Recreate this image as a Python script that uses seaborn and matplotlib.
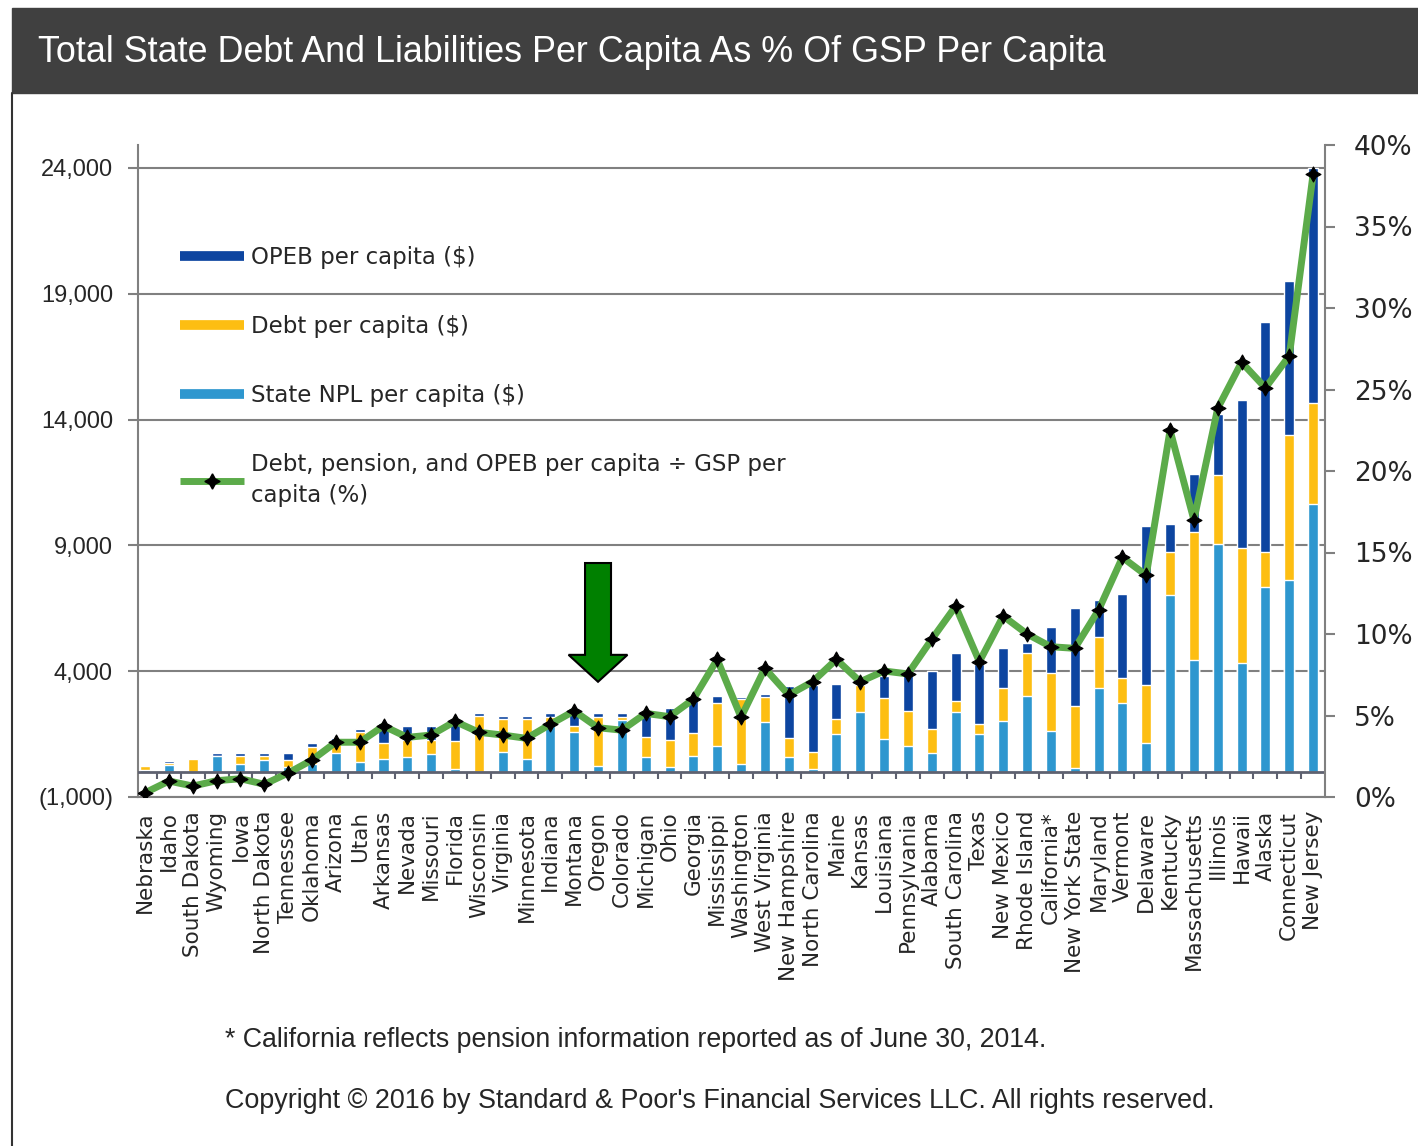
import numpy as np
import pandas as pd
import seaborn as sns
import matplotlib.pyplot as plt
from matplotlib.lines import Line2D
from matplotlib.patches import Rectangle

states = ["Nebraska", "Idaho", "South Dakota", "Wyoming", "Iowa", "North Dakota",
          "Tennessee", "Oklahoma", "Arizona", "Utah", "Arkansas", "Nevada", "Missouri",
          "Florida", "Wisconsin", "Virginia", "Minnesota", "Indiana", "Montana", "Oregon",
          "Colorado", "Michigan", "Ohio", "Georgia", "Mississippi", "Washington",
          "West Virginia", "New Hampshire", "North Carolina", "Maine", "Kansas",
          "Louisiana", "Pennsylvania", "Alabama", "South Carolina", "Texas", "New Mexico",
          "Rhode Island", "California*", "New York State", "Maryland", "Vermont",
          "Delaware", "Kentucky", "Massachusetts", "Illinois", "Hawaii", "Alaska",
          "Connecticut", "New Jersey"]
npl = [80, 280, 0, 640, 300, 490, 200, 330, 740, 410, 500, 600, 700, 130, 0, 800, 500,
       1920, 1600, 230, 2080, 600, 200, 610, 1030, 330, 1980, 600, 130, 1520, 2380, 1290,
       1020, 730, 2380, 1500, 2040, 3020, 1640, 150, 3320, 2720, 1140, 7020, 4440, 9070,
       4340, 7350, 7620, 10630]
debt = [150, 60, 520, 0, 320, 140, 290, 670, 460, 1190, 640, 670, 570, 1110, 2220, 1290,
        1590, 270, 230, 1960, 80, 790, 1060, 950, 1700, 2550, 1000, 730, 660, 600, 1060,
        1630, 1400, 990, 440, 420, 1280, 1690, 2300, 2470, 2050, 1020, 2310, 1720, 5100,
        2720, 4540, 1390, 5750, 4030]
opeb = [0, 90, 0, 100, 110, 100, 240, 140, 140, 100, 790, 560, 560, 820, 130, 130, 130,
        140, 700, 140, 170, 990, 1260, 1360, 290, 100, 130, 2080, 2650, 1390, 0, 890, 1420,
        2290, 1900, 2380, 1590, 400, 1800, 3910, 1460, 3310, 6310, 1130, 2310, 2440, 5910,
        9130, 6130, 9340]
pct = [0.26, 0.98, 0.67, 1.0, 1.12, 0.78, 1.47, 2.27, 3.36, 3.36, 4.36, 3.66, 3.8, 4.64,
       3.97, 3.8, 3.6, 4.46, 5.28, 4.25, 4.1, 5.13, 4.93, 6.0, 8.44, 4.89, 7.89, 6.26, 7.07,
       8.44, 7.07, 7.73, 7.55, 9.67, 11.7, 8.3, 11.1, 10.0, 9.22, 9.12, 11.47, 14.7, 13.6,
       22.5, 17.0, 23.85, 26.67, 25.1, 27.06, 38.2]

left_ticks = [-1000, 4000, 9000, 14000, 19000, 24000]
right_ticks = [0, 5, 10, 15, 20, 25, 30, 35, 40]

OPEB_C = "#0d45a0"
DEBT_C = "#fdbe12"
NPL_C = "#2e97cf"
GREEN = "#5cab4a"

df = pd.DataFrame({"state": states, "npl": npl, "debt": debt, "opeb": opeb, "pct": pct})
df["npl_debt"] = df["npl"] + df["debt"]
df["total"] = df["npl_debt"] + df["opeb"]

sns.set_theme(style="white")
plt.rcParams["font.family"] = ["Liberation Sans", "DejaVu Sans"]

W, H = 1418, 1146
fig = plt.figure(figsize=(W / 100, H / 100), dpi=100)
ax = fig.add_axes([138 / W, 1 - 797 / H, (1325 - 138) / W, (797 - 145) / H])

# header band + frame
fig.patches.append(Rectangle((12 / W, 1 - 93 / H), 1, 85 / H, transform=fig.transFigure,
                             color="#404040", zorder=0))
fig.add_artist(Line2D([12 / W, 12 / W], [0, 1 - 93 / H], color="#333333", lw=1.5))
fig.text(38 / W, 1 - 53 / H, "Total State Debt And Liabilities Per Capita As % Of GSP Per Capita",
         family=["Liberation Sans Narrow", "Liberation Sans"], fontsize=25.8, color="white",
         va="center", ha="left")

# stacked bars: draw cumulative totals back to front
for col, color in [("total", OPEB_C), ("npl_debt", DEBT_C), ("npl", NPL_C)]:
    sns.barplot(data=df, x="state", y=col, color=color, width=0.42, saturation=1,
                errorbar=None, ax=ax, zorder=2)

ax.set_ylim(-1000, 24914)
ax.set_yticks(left_ticks)
ax.set_yticklabels(["(1,000)" if v < 0 else f"{v:,}" for v in left_ticks])
ax.yaxis.grid(True, color="#808080", lw=1.5)
ax.set_axisbelow(True)
ax.axhline(0, color="#5e6170", lw=2, zorder=3)
ax.vlines(np.arange(len(states) - 1) + 0.5, -300, 0, color="#5e6170", lw=1.5, zorder=3)

ax.set_xticks(range(len(states)))
ax.set_xticklabels(states, rotation=90, va="top", ha="center",
                   family=["DejaVu Sans"], fontsize=15.5)
ax.tick_params(axis="x", length=0, pad=10)
ax.tick_params(axis="y", left=True, length=7, width=1.5, color="#808080",
               labelsize=17, pad=11)
for s in ["top", "right"]:
    ax.spines[s].set_visible(False)
for s in ["left", "bottom"]:
    ax.spines[s].set_color("#808080")
    ax.spines[s].set_linewidth(1.5)
ax.set_xlabel("")
ax.set_ylabel("")

# pointing arrow at Oregon
ax.arrow(states.index("Oregon"), 8300, 0, -4720, width=1.09, head_width=2.47,
         head_length=1070, length_includes_head=True, fc="#008000", ec="black",
         lw=1.5, zorder=6)

# ratio line on the right axis
ax2 = ax.twinx()
sns.lineplot(x=np.arange(len(states)), y=df["pct"], ax=ax2, color=GREEN, lw=5,
             marker=(4, 1, 0), markersize=11, markerfacecolor="black",
             markeredgecolor="black", zorder=5)
ax2.set_ylim(0, 40)
ax2.set_yticks(right_ticks)
ax2.set_yticklabels([f"{v}%" for v in right_ticks], family=["DejaVu Sans"])
ax2.tick_params(axis="y", right=True, length=7, width=1.5, color="#808080",
                labelsize=19, pad=14)
for s in ["top", "left", "bottom"]:
    ax2.spines[s].set_visible(False)
ax2.spines["right"].set_color("#808080")
ax2.spines["right"].set_linewidth(1.5)
ax2.set_ylabel("")
ax2.set_xlabel("")
ax.set_xlim(-0.3, len(states) - 0.5)

handles = [
    Line2D([], [], color=OPEB_C, lw=7, solid_capstyle="butt"),
    Line2D([], [], color=DEBT_C, lw=7, solid_capstyle="butt"),
    Line2D([], [], color=NPL_C, lw=7, solid_capstyle="butt"),
    Line2D([], [], color=GREEN, lw=5, marker=(4, 1, 0), markersize=11,
           markerfacecolor="black", markeredgecolor="black", solid_capstyle="butt"),
]
labels = ["OPEB per capita ($)", "Debt per capita ($)", "State NPL per capita ($)",
          "Debt, pension, and OPEB per capita \u00f7 GSP per\ncapita (%)"]
leg = ax2.legend(handles, labels, loc="upper left", bbox_to_anchor=(0.035, 0.845),
                 frameon=False, prop={"family": "DejaVu Sans", "size": 16.5},
                 handlelength=2.8, handletextpad=0.3, labelspacing=2.0,
                 borderaxespad=0, borderpad=0)
leg.get_texts()[3].set_linespacing(1.45)

fig.text(225 / W, 1 - 1040 / H,
         "* California reflects pension information reported as of June 30, 2014.",
         fontsize=19.3, va="center", ha="left")
fig.text(225 / W, 1 - 1101 / H,
         "Copyright \u00a9 2016 by Standard & Poor's Financial Services LLC. All rights reserved.",
         fontsize=19.4, va="center", ha="left")

fig.savefig("out.png", dpi=100)
